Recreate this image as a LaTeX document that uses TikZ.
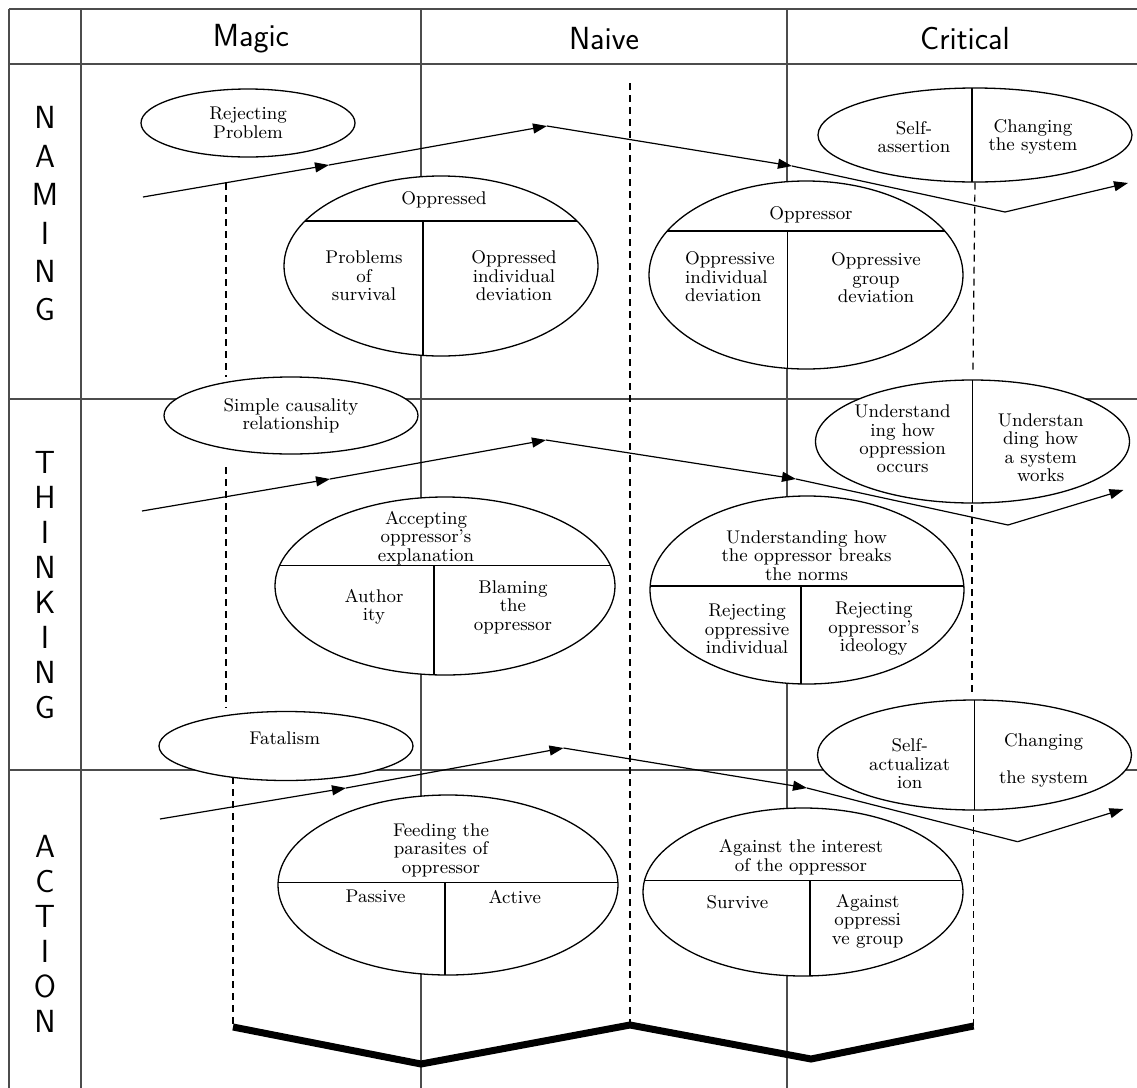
\documentclass[tikz,border=0pt]{standalone}
\usetikzlibrary{shapes.geometric,calc,arrows.meta}

\tikzset{
  gridline/.style={draw=black!70, line width=0.55pt},
  bubble/.style={ellipse, draw, fill=white, line width=0.65pt, inner sep=0pt},
  lbl/.style={font=\fontsize{9.2}{9.2}\selectfont, align=center, inner sep=0pt},
  head/.style={font=\sffamily\fontsize{16}{19}\selectfont, inner sep=0pt},
  flow/.style={line width=0.6pt, -{Triangle[length=7pt,width=5pt]}},
  guide/.style={line width=0.6pt, dash pattern=on 3.5pt off 2.5pt},
  zigzag/.style={line width=3.5pt},
  vsplit/.style={path picture={
    \coordinate (pnw) at (path picture bounding box.north west);
    \coordinate (pse) at (path picture bounding box.south east);
    \draw[line width=0.65pt] ($(pnw)!#1!(pnw-|pse)$) -- ($(pnw|-pse)!#1!(pse)$);}},
  hvsplit/.style 2 args={path picture={
    \coordinate (pnw) at (path picture bounding box.north west);
    \coordinate (pse) at (path picture bounding box.south east);
    \coordinate (pch) at ($(pnw)!#1!(pnw|-pse)$);
    \coordinate (pdv) at ($(pnw)!#2!(pnw-|pse)$);
    \draw[line width=0.65pt] (pch) -- (pch-|pse);
    \draw[line width=0.65pt] (pdv|-pch) -- (pdv|-pse);}}
}

\begin{document}
\begin{tikzpicture}[x=0.5pt, y=-0.5pt]
  \useasboundingbox (0,0) rectangle (1137,1088);
  % table
  \draw[gridline] (9,9) -- (1137,9);
  \draw[gridline] (9,64) -- (1137,64);
  \draw[gridline] (9,399) -- (1137,399);
  \draw[gridline] (9,770) -- (1137,770);
  \foreach \x in {9,81,421,787}
    \draw[gridline] (\x,9) -- (\x,1088);
  \node[head] (magic) at (251,39) {Magic};
  \node[head] (naive) at (604,39) {Naive};
  \node[head] (critical) at (965,39) {Critical};
  \node[head, align=center, font=\sffamily\fontsize{16}{19.2}\selectfont] (naming) at (45,214) {N\\A\\M\\I\\N\\G};
  \node[head, align=center, font=\sffamily\fontsize{16}{17.5}\selectfont] (thinking) at (45,585) {T\\H\\I\\N\\K\\I\\N\\G};
  \node[head, align=center, font=\sffamily\fontsize{16}{17.5}\selectfont] (action) at (45,934) {A\\C\\T\\I\\O\\N};

  % naming row
  \node[bubble, minimum width=107pt, minimum height=34pt] (rejprob) at (248,123) {};
  \node[lbl] at (rejprob) {Rejecting\\Problem};
  \node[bubble, minimum width=157pt, minimum height=90pt, hvsplit={0.25}{0.443}] (oppd) at (441,266) {};
  \node[lbl] (oppdtop) at (444,200) {Oppressed};
  \node[lbl] (oppdl) at (364,276) {Problems\\of\\survival};
  \node[lbl] (oppdr) at (514,276) {Oppressed\\individual\\deviation};
  \node[bubble, minimum width=157pt, minimum height=94pt, hvsplit={0.266}{0.442}] (oppr) at (806,275) {};
  \node[lbl] (opprtop) at (811,215) {Oppressor};
  \node[lbl, align=left] (opprl) at (730,277) {Oppressive\\individual\\deviation};
  \node[lbl] (opprr) at (876,278) {Oppressive\\group\\deviation};
  \node[bubble, minimum width=157pt, minimum height=47pt, vsplit=0.49] (assert) at (975,135) {};
  \node[lbl] (assertl) at (914,137) {Self-\\assertion};
  \node[lbl] (assertr) at (1033,137) {Changing\\the system};

  % thinking row
  \node[bubble, minimum width=127pt, minimum height=38.5pt] (causal) at (291,415.5) {};
  \node[lbl] at (causal) {Simple causality\\relationship};
  \node[bubble, minimum width=170pt, minimum height=89pt, hvsplit={0.384}{0.468}] (accept) at (445,586) {};
  \node[lbl] (accepttop) at (426,538) {Accepting\\oppressor's\\explanation};
  \node[lbl] (acceptl) at (374,607) {Author\\ity};
  \node[lbl] (acceptr) at (513,607) {Blaming\\the\\oppressor};
  \node[bubble, minimum width=157pt, minimum height=94pt, hvsplit={0.479}{0.481}] (norms) at (807,590) {};
  \node[lbl] (normstop) at (806.6,555.7) {Understanding how\\the oppressor breaks\\the norms};
  \node[lbl] (normsl) at (747,629) {Rejecting\\oppressive\\individual};
  \node[lbl] (normsr) at (873.8,629) {Rejecting\\oppressor's\\ideology};
  \node[bubble, minimum width=157pt, minimum height=61.5pt, vsplit=0.5] (underst) at (972.5,441.5) {};
  \node[lbl] (understl) at (902.6,439) {Understand\\ing how\\oppression\\occurs};
  \node[lbl] (understr) at (1040.7,447.7) {Understan\\ding how\\a system\\works};

  % action row
  \node[bubble, minimum width=127pt, minimum height=34.5pt] (fatal) at (286,746) {};
  \node[lbl] (fataltxt) at (284.7,738) {Fatalism};
  \node[bubble, minimum width=170pt, minimum height=90pt, hvsplit={0.485}{0.491}] (feed) at (448,885) {};
  \node[lbl] (feedtop) at (441,850) {Feeding the\\parasites of\\oppressor};
  \node[lbl] (feedl) at (375.6,896.7) {Passive};
  \node[lbl] (feedr) at (514.8,896.7) {Active};
  \node[bubble, minimum width=160pt, minimum height=84pt, hvsplit={0.433}{0.522}] (against) at (803,892) {};
  \node[lbl] (againsttop) at (801,857.3) {Against the interest\\of the oppressor};
  \node[lbl] (againstl) at (737.4,902.7) {Survive};
  \node[lbl] (againstr) at (867.7,921) {Against\\oppressi\\ve group};
  \node[bubble, minimum width=157pt, minimum height=55pt, vsplit=0.5] (actual) at (974.5,755) {};
  \node[lbl] (actuall) at (909.7,764) {Self-\\actualizat\\ion};
  \node[lbl] (actualr) at (1043.6,760) {Changing\\\\the system};

  % dashed guides
  \coordinate (ga1) at (226,183);
  \coordinate (ga2) at (226,377);
  \coordinate (gb1) at (226,467);
  \coordinate (gb2) at (226,708);
  \coordinate (gc1) at (233,777);
  \coordinate (gm1) at (630,83);
  \coordinate (gd1) at (973,370);
  \coordinate (ge1) at (972,505);
  \coordinate (ge2) at (972,693);
  \coordinate (gf1) at (973.6,815);
  % bottom zigzag
  \coordinate (z1) at (233,1027);
  \coordinate (z2) at (421,1064);
  \coordinate (z3) at (630,1025);
  \coordinate (z4) at (811,1059);
  \coordinate (z5) at (973.6,1026);
  \draw[guide] (ga1) -- (ga2);
  \draw[guide] (gb1) -- (gb2);
  \draw[guide] (gc1) -- (z1);
  \draw[guide] (gm1) -- (z3);
  \draw[guide] (assert.south) -- (gd1);
  \draw[guide] (ge1) -- (ge2);
  \draw[guide] (gf1) -- (z5);
  \draw[zigzag] (z1) -- (z2) -- (z3) -- (z4) -- (z5);

  % flow arrows
  \coordinate (na0) at (143,197);
  \coordinate (na1) at (329,165);
  \coordinate (na2) at (547,126);
  \coordinate (na3) at (792,166);
  \coordinate (na4) at (1005,212);
  \coordinate (na5) at (1128,183);
  \draw[flow] (na0) -- (na1);
  \draw[flow] (na1) -- (na2);
  \draw[flow] (na2) -- (na3);
  \draw[line width=0.6pt] (na3) -- (na4);
  \draw[flow] (na4) -- (na5);
  \coordinate (th0) at (142,511);
  \coordinate (th1) at (330,479);
  \coordinate (th2) at (546,440);
  \coordinate (th3) at (796,479);
  \coordinate (th4) at (1008,525);
  \coordinate (th5) at (1123.5,490);
  \draw[flow] (th0) -- (th1);
  \draw[flow] (th1) -- (th2);
  \draw[flow] (th2) -- (th3);
  \draw[line width=0.6pt] (th3) -- (th4);
  \draw[flow] (th4) -- (th5);
  \coordinate (ac0) at (160,819);
  \coordinate (ac1) at (346,788);
  \coordinate (ac2) at (563.5,748);
  \coordinate (ac3) at (807,788);
  \coordinate (ac4) at (1017.6,841.7);
  \coordinate (ac5) at (1123.5,809);
  \draw[flow] (ac0) -- (ac1);
  \draw[flow] (ac1) -- (ac2);
  \draw[flow] (ac2) -- (ac3);
  \draw[line width=0.6pt] (ac3) -- (ac4);
  \draw[flow] (ac4) -- (ac5);
\end{tikzpicture}
\end{document}
